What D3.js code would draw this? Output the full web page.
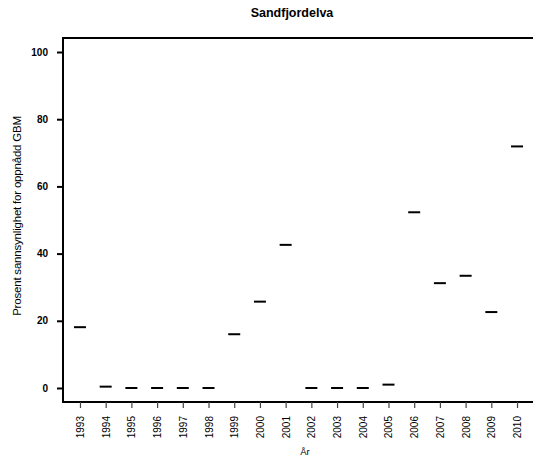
<!DOCTYPE html>
<meta charset="utf-8">
<style>
    body{ margin: 0; background: #fff; }
    text{ font-family: "Liberation Sans", Arial, sans-serif; }
</style>
<script src="https://d3js.org/d3.v7.min.js"></script>
<div id="chart"></div>
<script>

    // data
    const years = ["1993","1994","1995","1996","1997","1998","1999","2000","2001",
                   "2002","2003","2004","2005","2006","2007","2008","2009","2010"];
    const values = [18.1, 0.4, 0, 0, 0, 0, 16.0, 25.7, 42.6,
                    0, 0, 0, 1.0, 52.3, 31.2, 33.4, 22.6, 71.9];
    const yTicks = [0, 20, 40, 60, 80, 100];

    const W = 533, H = 461;
    const plot = {left: 63, right: 534, top: 38, bottom: 402};

    const svg = d3.select("#chart")
      .append("svg")
        .attr("width", W)
        .attr("height", H);

    const x = d3.scalePoint()
        .domain(years)
        .range([plot.left, plot.right])
        .padding(0.66);

    const y = d3.scaleLinear()
        .domain([-4.17, 104.17])
        .range([plot.bottom, plot.top]);

    // frame
    svg.append("rect")
        .attr("x", plot.left).attr("y", plot.top)
        .attr("width", plot.right - plot.left)
        .attr("height", plot.bottom - plot.top)
        .attr("fill", "none").attr("stroke", "#000").attr("stroke-width", 2);

    // y axis
    const yAxis = svg.append("g")
        .attr("transform", `translate(${plot.left},0)`)
        .call(d3.axisLeft(y).tickValues(yTicks).tickSize(6).tickPadding(9));
    yAxis.select(".domain").remove();
    yAxis.selectAll("line").attr("stroke-width", 2);
    yAxis.selectAll("text")
        .style("font-family", "'Liberation Sans', Arial, sans-serif")
        .style("font-size", "10px").style("font-weight", "bold");

    // x axis
    const xAxis = svg.append("g")
        .attr("transform", `translate(0,${plot.bottom})`)
        .call(d3.axisBottom(x).tickSize(6));
    xAxis.select(".domain").remove();
    xAxis.selectAll("line").attr("stroke", "#444").attr("stroke-width", 1.2);
    xAxis.selectAll("text")
        .attr("transform", "rotate(-90)")
        .attr("x", -14).attr("y", 0).attr("dy", "0.35em")
        .style("text-anchor", "end")
        .style("font-family", "'Liberation Sans', Arial, sans-serif")
        .style("font-size", "10px");

    // markers
    svg.append("g")
      .selectAll("line")
      .data(years.map((d, i) => ({year: d, value: values[i]})))
      .join("line")
        .attr("x1", d => x(d.year) - 6)
        .attr("x2", d => x(d.year) + 6)
        .attr("y1", d => y(d.value))
        .attr("y2", d => y(d.value))
        .attr("stroke", "#000").attr("stroke-width", 2);

    // titles
    svg.append("text")
        .attr("x", 292).attr("y", 17)
        .attr("text-anchor", "middle")
        .style("font-size", "12.5px").style("font-weight", "bold")
        .text("Sandfjordelva");

    svg.append("text")
        .attr("x", 305).attr("y", 455)
        .attr("text-anchor", "middle")
        .style("font-size", "9.5px")
        .text("År");

    svg.append("text")
        .attr("transform", `translate(21,216) rotate(-90)`)
        .attr("text-anchor", "middle")
        .style("font-size", "11.5px")
        .style("letter-spacing", "-0.2px")
        .text("Prosent sannsynlighet for oppnådd GBM");

</script>
